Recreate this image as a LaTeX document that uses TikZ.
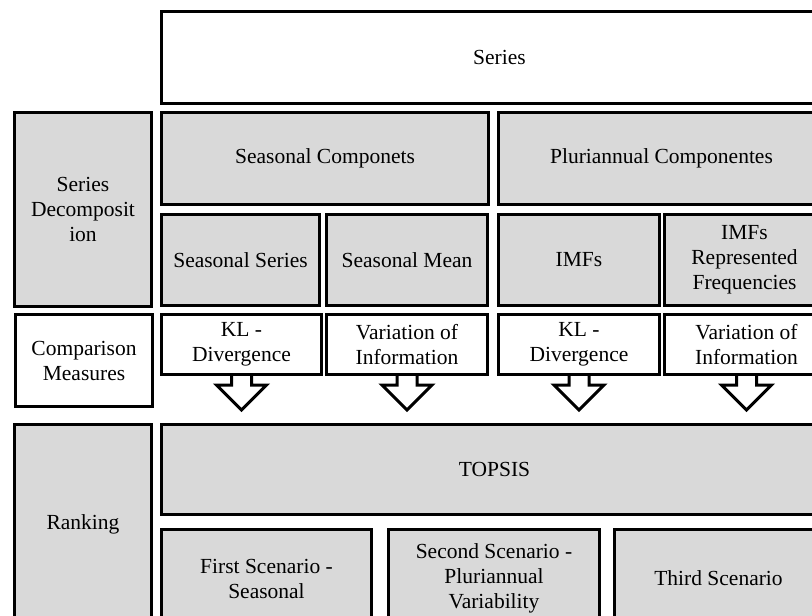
\documentclass[tikz,border=0pt]{standalone}
\usepackage{fontspec}
\setmainfont{Liberation Serif}
\usepackage{tikz}
\usetikzlibrary{calc}
\definecolor{boxgray}{RGB}{217,217,217}
\tikzset{
  blk/.style={draw,line width=3pt,fill=boxgray,align=center,inner sep=0pt,anchor=north west,
    font=\fontsize{21.5}{25}\selectfont},
  wblk/.style={blk,fill=white},
}
\newcommand{\drawDownArrow}[1]{% below node #1
  \draw[line width=3pt,fill=white,miter limit=10] ($(#1.south)+(-10,0)$) -- ++(0,9) -- ++(-15,0)
    -- ++(25,25) -- ++(25,-25) -- ++(-15,0) -- ++(0,-9);
}

\begin{document}
\begin{tikzpicture}[x=1pt,y=-1pt]
\useasboundingbox (0,0) rectangle (812,616);
\clip (0,0) rectangle (812,616);

% Top: series
\node[wblk,minimum width=676,minimum height=92] (series) at (160,10) {Series};

% Decomposition
\node[blk,minimum width=137,minimum height=194] (decomp) at (13,111) {Series\\Decomposit\\ion};
\node[blk,minimum width=327,minimum height=92] (seascomp) at (160,111) {Seasonal Componets};
\node[blk,minimum width=326,minimum height=92] (pluricomp) at (497,111) {Pluriannual Componentes};
\node[blk,minimum width=158,minimum height=91] (seasseries) at (160,213) {Seasonal Series};
\node[blk,minimum width=161,minimum height=91] (seasmean) at (325,213) {Seasonal Mean};
\node[blk,minimum width=161,minimum height=91] (imfs) at (497,213) {IMFs};
\node[blk,minimum width=160,minimum height=91] (imfsrep) at (663,213) {IMFs\\Represented\\Frequencies};

% Comparison measures
\node[wblk,minimum width=137,minimum height=92] (compmeas) at (14,313) {Comparison\\Measures};
\node[wblk,minimum width=160,minimum height=60] (klseas) at (160,313) {KL -\\Divergence};
\node[wblk,minimum width=161,minimum height=60] (viseas) at (325,313) {Variation of\\Information};
\node[wblk,minimum width=161,minimum height=60] (klpluri) at (497,313) {KL -\\Divergence};
\node[wblk,minimum width=164,minimum height=60] (vipluri) at (663,313) {Variation of\\Information};
\drawDownArrow{klseas}
\drawDownArrow{viseas}
\drawDownArrow{klpluri}
\drawDownArrow{vipluri}

% Ranking
\node[blk,minimum width=137,minimum height=200] (ranking) at (13,423) {Ranking};
\node[blk,minimum width=666,minimum height=90] (topsis) at (160,423) {TOPSIS};
\node[blk,minimum width=210,minimum height=98] (first) at (160,528) {First Scenario -\\Seasonal};
\node[blk,minimum width=211,minimum height=98] (second) at (387,528) {Second Scenario -\\Pluriannual\\Variability};
\node[blk,minimum width=208,minimum height=98] (third) at (613,528) {Third Scenario};

\end{tikzpicture}
\end{document}
